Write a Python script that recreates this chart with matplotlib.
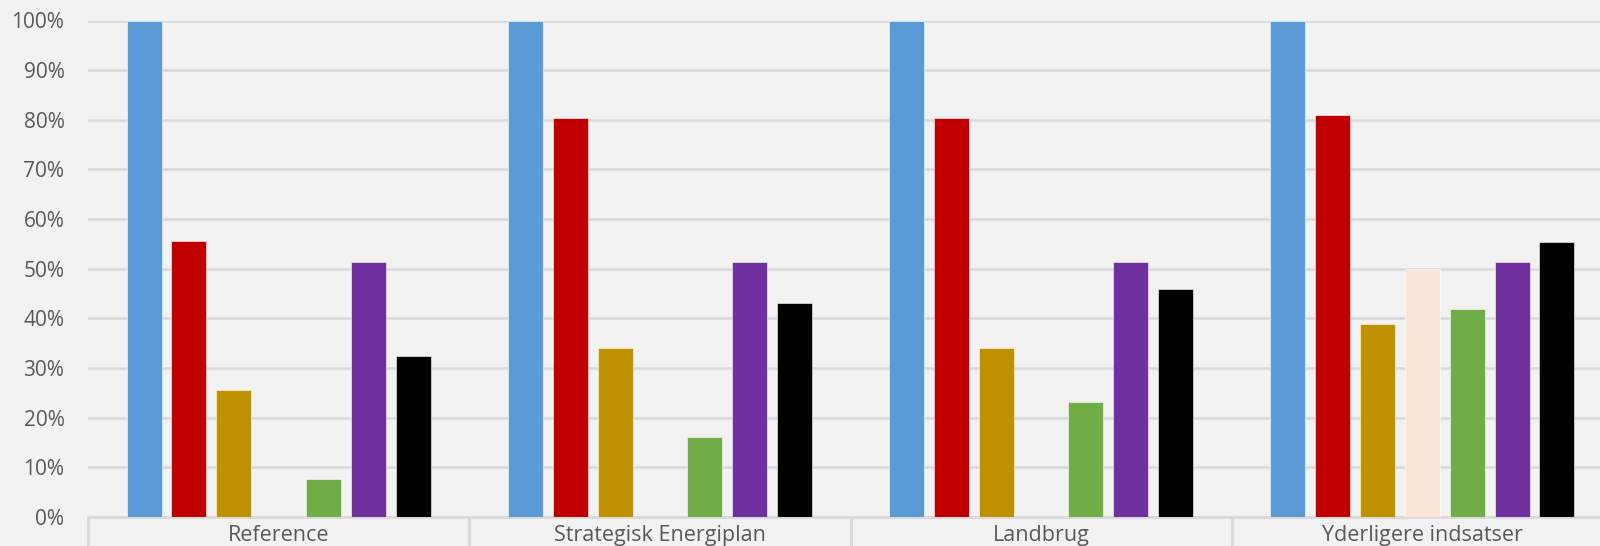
import matplotlib.pyplot as plt
import numpy as np
from matplotlib.ticker import FuncFormatter, MultipleLocator
import matplotlib.transforms as mtransforms

plt.rcParams["font.family"] = ["Open Sans", "DejaVu Sans"]

categories = ["Reference", "Strategisk Energiplan", "Landbrug", "Yderligere indsatser"]

# seven series per category (values in %), None = no bar
s_blue = [100, 100, 100, 100]
s_red = [55.5, 80.4, 80.4, 81.0]
s_gold = [25.5, 34.0, 34.0, 38.8]
s_peach = [None, None, None, 49.9]
s_green = [7.7, 16.2, 23.1, 41.8]
s_purple = [51.3, 51.3, 51.3, 51.3]
s_black = [32.4, 43.2, 46.0, 55.3]

series = [s_blue, s_red, s_gold, s_peach, s_green, s_purple, s_black]
colors = ["#5B9BD5", "#C00000", "#BF9000", "#FBE5D6", "#70AD47", "#7030A0", "#000000"]

BG = "#F2F2F2"
GRID = "#D9D9D9"
TXT = "#595959"

fig = plt.figure(figsize=(16, 5.46), dpi=100, facecolor=BG)
ax = fig.add_axes([88 / 1600, 1 - 517 / 546, 1525 / 1600, 496.5 / 546])
ax.set_facecolor(BG)

x = np.arange(len(categories))
step = 0.1176
width = 0.092
for k, (vals, col) in enumerate(zip(series, colors)):
    off = (k - 3) * step
    for i, v in enumerate(vals):
        if v is None:
            continue
        ax.bar(x[i] + off, v, width=width, color=col, zorder=3,
               edgecolor="white", linewidth=0.4)

ax.set_xlim(-0.5, len(categories) - 0.5)
ax.set_ylim(0, 100)
ax.yaxis.set_major_locator(MultipleLocator(10))
ax.yaxis.set_major_formatter(FuncFormatter(lambda v, p: f"{v:.0f}%"))
ax.grid(True, axis="y", color=GRID, linewidth=1.8, zorder=0)
ax.set_axisbelow(True)

for side in ["top", "right", "left"]:
    ax.spines[side].set_visible(False)
ax.spines["bottom"].set_color(GRID)
ax.spines["bottom"].set_linewidth(2)

ax.set_xticks(x)
ax.set_xticklabels(categories)
ax.tick_params(axis="x", length=0, pad=6, labelsize=15.5, labelcolor=TXT)
ax.tick_params(axis="y", length=0, pad=17, labelsize=15, labelcolor=TXT)

# category separators below the axis
trans = mtransforms.blended_transform_factory(ax.transData, ax.transAxes)
for b in np.arange(len(categories) + 1) - 0.5:
    ax.plot([b, b], [0, -0.2], transform=trans, color=GRID, linewidth=2,
            clip_on=False, zorder=1)

fig.savefig("out.png", dpi=100, facecolor=BG)
